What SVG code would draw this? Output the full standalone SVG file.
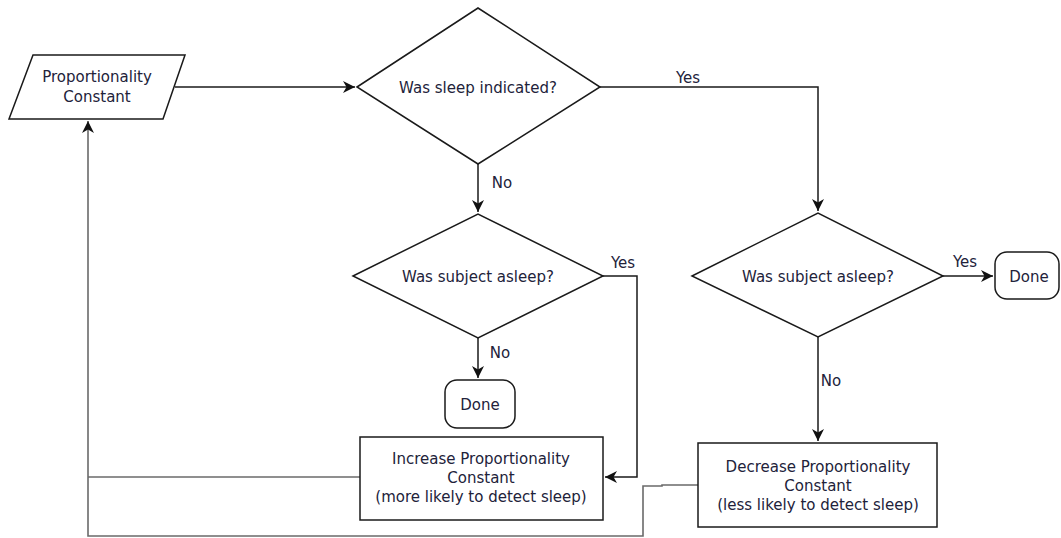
<svg xmlns="http://www.w3.org/2000/svg" width="1061" height="538" viewBox="0 0 1061 538">
<defs>
<marker id="arr" markerWidth="13" markerHeight="13" viewBox="0 0 13 13" refX="12" refY="6.5" orient="auto" markerUnits="userSpaceOnUse">
<path d="M0,0.5 L12,6.5 L0,12.5 L3.5,6.5 Z" fill="#111"/>
</marker>
<style>
.shape{fill:#fff;stroke:#1a1a1a;stroke-width:1.5}
.line{fill:none;stroke:#1a1a1a;stroke-width:1.5}
.gray{fill:none;stroke:#6a6a6a;stroke-width:1.6}
text{font-family:"DejaVu Sans","Open Sans",sans-serif;font-size:15px;fill:#22223a;text-anchor:middle}
</style>
</defs>
<rect width="1061" height="538" fill="#fff"/>
<g id="connectors">
<path class="line" d="M175,87 L355,87" marker-end="url(#arr)"/>
<path class="line" d="M600,87 L818,87 L818,211" marker-end="url(#arr)"/>
<path class="line" d="M478,164 L478,212" marker-end="url(#arr)"/>
<path class="line" d="M478,338 L478,378" marker-end="url(#arr)"/>
<path class="line" d="M603,276 L637,276 L637,477 L605,477" marker-end="url(#arr)"/>
<path class="line" d="M943,276 L993,276" marker-end="url(#arr)"/>
<path class="line" d="M818,337 L818,441" marker-end="url(#arr)"/>
<path class="gray" d="M360,477 L88,477"/>
<path class="gray" d="M698,485 L662,485 L662,486 L643,486 L643,536 L88,536 L88,121" marker-end="url(#arr)"/>
<text x="688" y="83">Yes</text>
<text x="502" y="188">No</text>
<text x="623" y="268">Yes</text>
<text x="500" y="358">No</text>
<text x="965" y="267">Yes</text>
<text x="831" y="386">No</text>
</g>
<g id="input">
<polygon class="shape" points="33,55 185,55 163,119 9,119"/>
<text x="97" y="82">Proportionality</text>
<text x="97" y="102">Constant</text>
</g>
<g id="d1">
<polygon class="shape" points="357,87 478,8 600,87 478,164"/>
<text x="478" y="93">Was sleep indicated?</text>
</g>
<g id="d2">
<polygon class="shape" points="353,276 478,214 603,276 478,338"/>
<text x="478" y="282">Was subject asleep?</text>
</g>
<g id="d3">
<polygon class="shape" points="692,276 818,213 943,276 818,337"/>
<text x="818" y="282">Was subject asleep?</text>
</g>
<g id="done1">
<rect class="shape" x="445" y="380" width="70" height="48" rx="12"/>
<text x="480" y="410">Done</text>
</g>
<g id="done2">
<rect class="shape" x="995" y="252" width="64" height="47" rx="12"/>
<text x="1029" y="282">Done</text>
</g>
<g id="increase">
<rect class="shape" x="360" y="437" width="243" height="83"/>
<text x="481" y="464">Increase Proportionality</text>
<text x="481" y="483">Constant</text>
<text x="481" y="502">(more likely to detect sleep)</text>
</g>
<g id="decrease">
<rect class="shape" x="698" y="443" width="239" height="84"/>
<text x="818" y="472">Decrease Proportionality</text>
<text x="818" y="491">Constant</text>
<text x="818" y="510">(less likely to detect sleep)</text>
</g>
</svg>
